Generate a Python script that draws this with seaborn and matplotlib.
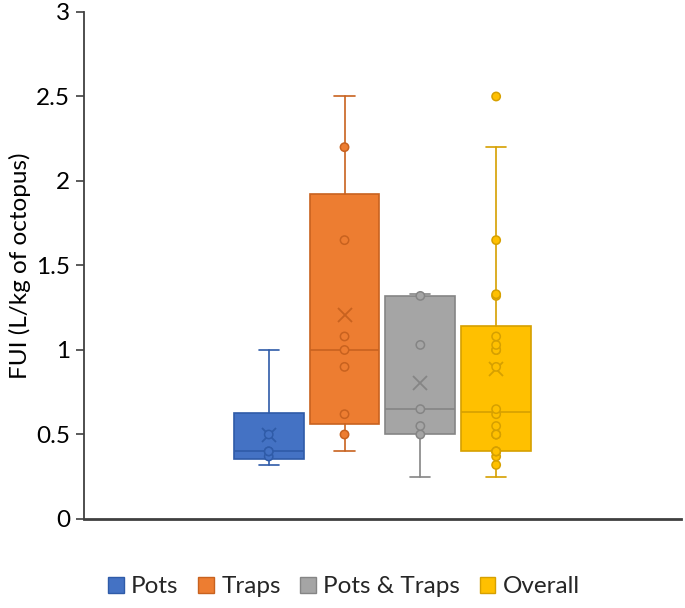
import numpy as np
import pandas as pd
import matplotlib.pyplot as plt
import seaborn as sns
from matplotlib.patches import Patch
from matplotlib.ticker import FuncFormatter

# FUI values (L/kg of octopus) per gear type
groups = ['Pots', 'Traps', 'Pots & Traps', 'Overall']
pots = [0.32, 0.37, 0.40, 0.40, 0.50, 1.00]
traps = [0.40, 0.50, 0.62, 0.90, 1.00, 1.08, 1.65, 2.20, 2.50]
pots_traps = [0.25, 0.50, 0.55, 0.65, 1.03, 1.32, 1.33]
overall = sorted(pots + traps + pots_traps)

fill_colors = ['#4472C4', '#ED7D31', '#A5A5A5', '#FFC000']
edge_colors = ['#2F5BA8', '#C8621F', '#858585', '#D6A000']

sns.set_theme(style='ticks')
plt.rcParams['font.family'] = ['Lato', 'DejaVu Sans']

data = [pots, traps, pots_traps, overall]


def excel_stats(vals, label):
    # Excel box & whisker: exclusive quartiles, whiskers to 1.5 IQR
    v = np.array(vals)
    q1, med, q3 = np.percentile(v, [25, 50, 75], method='weibull')
    iqr = q3 - q1
    lo = v[v >= q1 - 1.5 * iqr].min()
    hi = v[v <= q3 + 1.5 * iqr].max()
    return {'label': label, 'med': med, 'q1': q1, 'q3': q3,
            'whislo': lo, 'whishi': hi, 'mean': v.mean(), 'fliers': []}


fig = plt.figure(figsize=(6.85, 6.08), dpi=100)
ax = fig.add_axes([0.1226, 0.1464, 0.8714, 0.8339])

step = 0.127
width = 0.117
positions = [0.5 + (i - 1.5) * step for i in range(len(groups))]

rows = []
for i, (name, vals) in enumerate(zip(groups, data)):
    st = excel_stats(vals, name)
    ec = edge_colors[i]
    ax.bxp([st], positions=[positions[i]], widths=width, showfliers=False,
           showmeans=True, patch_artist=True, capwidths=0.034,
           boxprops=dict(facecolor=fill_colors[i], edgecolor=ec, linewidth=1.2),
           medianprops=dict(color=ec, linewidth=1.2),
           whiskerprops=dict(color=ec, linewidth=1.2),
           capprops=dict(color=ec, linewidth=1.2),
           meanprops=dict(marker='x', markeredgecolor=ec, markersize=10,
                          markeredgewidth=1.3))
    # inner points and outliers (whisker ends are not marked, as in Excel)
    for v in vals:
        if v != st['whislo'] and v != st['whishi']:
            rows.append({'x': positions[i], 'y': v, 'group': name})

pts = pd.DataFrame(rows)
sns.scatterplot(data=pts, x='x', y='y', hue='group', hue_order=groups,
                palette=dict(zip(groups, fill_colors)), s=36, marker='o',
                edgecolor=[edge_colors[groups.index(g)] for g in pts['group']],
                linewidth=1.1, legend=False, ax=ax, zorder=5)

ax.set_xlim(0, 1)
ax.set_ylim(0, 3)
ax.set_yticks(np.arange(0, 3.01, 0.5))
ax.yaxis.set_major_formatter(FuncFormatter(lambda v, p: f'{v:g}'))
ax.set_xticks([])
ax.set_xlabel('')
ax.set_ylabel('FUI (L/kg of octopus)', fontsize=17.5, color='black', labelpad=4)
ax.tick_params(axis='y', labelsize=17.5, length=6, width=1.2, color='#404040',
               labelcolor='black', pad=4)
sns.despine(ax=ax)
ax.spines['left'].set_color('#404040')
ax.spines['left'].set_linewidth(1.3)
ax.spines['bottom'].set_color('#404040')
ax.spines['bottom'].set_linewidth(2.0)

handles = [Patch(facecolor=fill_colors[i], edgecolor=edge_colors[i], label=g)
           for i, g in enumerate(groups)]
fig.legend(handles=handles, loc='center', bbox_to_anchor=(0.502, 0.035),
           ncol=4, frameon=False, fontsize=17.5, handlelength=0.65,
           handleheight=0.65, handletextpad=0.3, columnspacing=0.8)

fig.savefig('out.png', dpi=100)
